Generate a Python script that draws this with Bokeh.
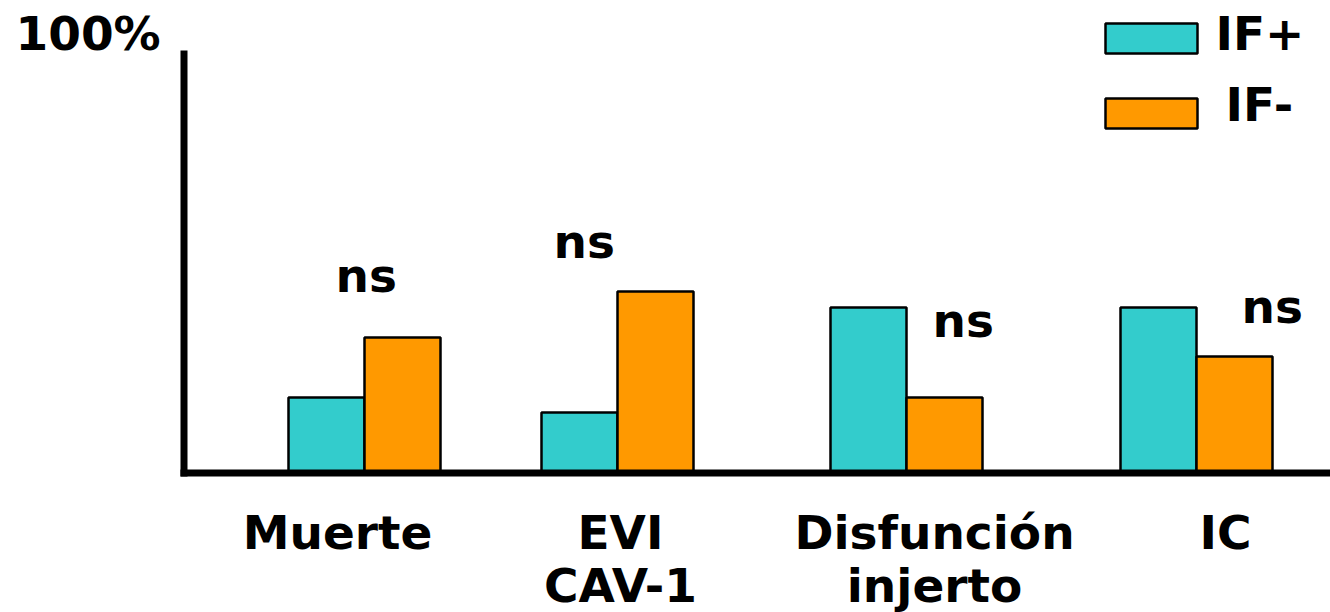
from bokeh.plotting import figure
from bokeh.models import Range1d, ColumnDataSource
from bokeh.core.properties import value
from bokeh.embed import file_html
from bokeh.resources import INLINE

# ---- data ----
categories = ["Muerte", "EVI\nCAV-1", "Disfunción\ninjerto", "IC"]
series_names = ["IF+", "IF-"]
if_pos = [17.8, 14.2, 39.1, 39.1]
if_neg = [32.0, 42.9, 17.8, 27.5]
sig_labels = ["ns", "ns", "ns", "ns"]
axis_top_label = "100%"

# ---- layout (pixels) ----
W, H = 1330, 612
BASE_PY = 472.0
PPU = 4.22
TXT_SHIFT = 17  # compensation for baseline rendering
def ydat(py):
    return (BASE_PY - py) / PPU
def ytxt(py):
    return ydat(py - TXT_SHIFT)

GROUP_X = [364, 617, 906, 1196]
BAR_W = 76
LABEL_X = [337, 620, 934, 1225]
NS_POS = [(335, 292), (553, 258), (932, 337), (1241, 323)]
TEAL = "#33CCCC"
ORANGE = "#FF9900"
FONT = value("DejaVu Sans")
FS = "47px"

p = figure(width=W, height=H, output_backend="svg", toolbar_location=None,
           x_range=Range1d(0, W), y_range=Range1d(ydat(H), ydat(0)),
           x_axis_location=None, y_axis_location=None, min_border=0)
p.grid.visible = False
p.outline_line_color = None
p.background_fill_color = "white"

src = ColumnDataSource(dict(
    xp=[g - BAR_W / 2 for g in GROUP_X],
    xn=[g + BAR_W / 2 for g in GROUP_X],
    pos=if_pos, neg=if_neg))

p.vbar(x="xp", top="pos", width=BAR_W, bottom=0, source=src,
       fill_color=TEAL, line_color="black", line_width=2.5)
p.vbar(x="xn", top="neg", width=BAR_W, bottom=0, source=src,
       fill_color=ORANGE, line_color="black", line_width=2.5)

# axis lines
p.segment(x0=[183.5], y0=[ydat(50)], x1=[183.5], y1=[ydat(476)], line_color="black", line_width=7)
p.segment(x0=[180], y0=[ydat(472.5)], x1=[W], y1=[ydat(472.5)], line_color="black", line_width=7)

# top label
p.text(x=[15], y=[ytxt(50)], text=[axis_top_label], text_font=FONT, text_font_style="bold",
       text_font_size=FS, text_align="left", text_baseline="alphabetic", text_color="black")

# category labels
lx, ly, lt = [], [], []
for cx, cat in zip(LABEL_X, categories):
    for i, line in enumerate(cat.split("\n")):
        lx.append(cx); ly.append(ytxt(549 + 53 * i)); lt.append(line)
p.text(x=lx, y=ly, text=lt, text_font=FONT, text_font_style="bold", text_font_size=FS,
       text_align="center", text_baseline="alphabetic", text_color="black")

# ns labels
p.text(x=[q[0] for q in NS_POS], y=[ytxt(q[1]) for q in NS_POS], text=sig_labels,
       text_font=FONT, text_font_style="bold", text_font_size=FS,
       text_align="left", text_baseline="alphabetic", text_color="black")

# legend
p.quad(left=[1105, 1105], right=[1197, 1197], top=[ydat(23), ydat(98)], bottom=[ydat(53), ydat(128)],
       fill_color=[TEAL, ORANGE], line_color="black", line_width=2.5)
p.text(x=[1215, 1225], y=[ytxt(50), ytxt(121)], text=series_names, text_font=FONT,
       text_font_style="bold", text_font_size=FS, text_align="left",
       text_baseline="alphabetic", text_color="black")

open("out.html", "w").write(file_html(p, INLINE))
